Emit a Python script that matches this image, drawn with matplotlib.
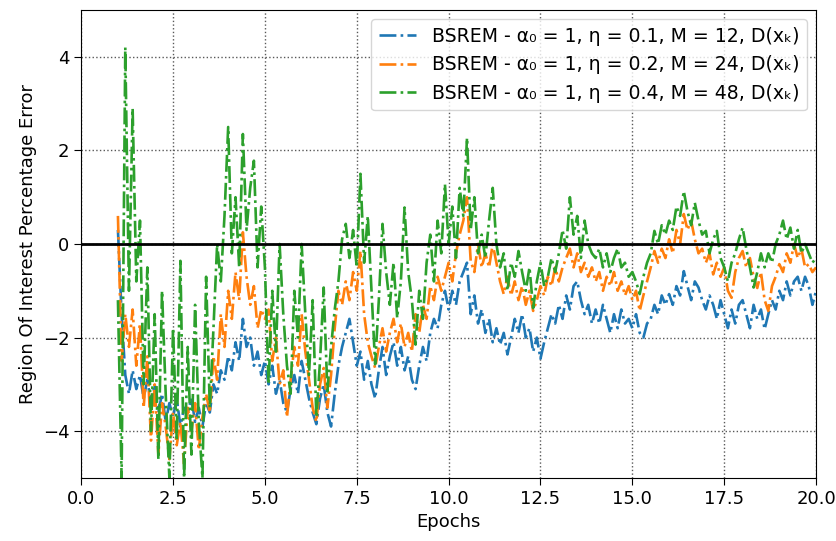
import numpy as np
import matplotlib.pyplot as plt

plt.rcParams['font.family'] = ['DejaVu Sans', 'Noto Sans']

# epochs from 1.0 to 20.0, step 0.1
epochs = np.round(np.arange(1.0, 20.01, 0.1), 2)

blue = [
    0.3, -1.5, -2.8, -3.2, -2.7, -3.1, -2.8, -3.3, -2.9, -3.4,
    -3.0, -3.6, -3.2, -3.8, -3.4, -3.7, -3.3, -3.9, -3.5, -3.6,
    -3.3, -3.8, -3.5, -3.9, -3.4, -3.6, -3.0, -3.2, -2.7, -2.9,
    -2.4, -2.7, -2.1, -2.5, -1.6, -2.2, -2.0, -2.6, -2.3, -2.8,
    -2.5, -3.0, -2.6, -3.2, -2.9, -3.4, -3.6, -3.1, -2.8, -3.2,
    -2.5, -2.9, -3.3, -3.6, -3.85, -3.3, -3.0, -3.6, -3.9, -3.2,
    -2.6, -2.2, -1.9, -1.6, -2.1, -2.6, -2.3, -2.9, -2.5, -3.0,
    -3.3, -2.7, -2.2, -2.8, -2.4, -2.1, -2.6, -2.2, -2.7, -2.4,
    -2.9, -3.1, -2.6, -2.2, -2.5, -1.9, -1.6, -1.8, -1.3, -1.0,
    -1.4, -1.0, -1.3, -0.8, -0.6, -0.4, -1.5, -1.1, -1.7, -1.4,
    -1.9, -1.6, -2.1, -1.8, -2.15, -1.9, -2.36, -2.0, -1.6, -1.9,
    -1.5, -2.0, -1.8, -2.3, -2.0, -2.45, -2.1, -1.8, -1.5, -1.7,
    -1.3, -1.6, -1.1, -1.4, -0.9, -0.8, -1.2, -1.5, -1.3, -1.7,
    -1.4, -1.7, -1.3, -1.6, -1.9, -1.5, -1.8, -1.4, -1.7, -1.6,
    -1.8, -1.5, -1.9, -2.0, -1.7, -1.6, -1.3, -1.5, -1.1, -1.3,
    -1.07, -1.3, -0.9, -1.1, -0.58, -0.9, -1.2, -0.8, -0.93, -1.2,
    -1.4, -1.1, -1.3, -1.6, -1.2, -1.5, -1.8, -1.4, -1.7, -1.3,
    -1.2, -1.5, -1.8, -1.3, -1.6, -1.4, -1.82, -1.5, -1.2, -1.4,
    -1.0, -1.2, -0.8, -1.1, -0.8, -0.7, -1.0, -0.7, -0.9, -1.3,
    -1.0,
]

orange = [
    0.6, -2.5, -1.5, -2.2, -1.4, -2.6, -1.7, -3.5, -2.4, -4.2,
    -3.0, -4.5, -3.4, -3.9, -4.6, -3.6, -4.3, -3.8, -4.7, -3.5,
    -4.0, -3.4, -4.4, -3.7, -3.2, -3.6, -2.4, -2.9, -1.5, -2.2,
    -1.0, -1.6, -0.6, -1.2, 0.25, -0.7, -1.3, -0.9, -1.8, -1.4,
    -1.6, -1.4, -2.5, -2.0, -3.0, -2.7, -3.7, -2.9, -2.2, -2.6,
    -1.5, -2.3, -2.9, -3.5, -3.8, -3.0, -2.65, -3.5, -2.8, -1.8,
    -1.0, -1.3, -0.8, -1.2, -0.6, -1.0, -0.15, -1.5, -2.1, -2.4,
    -2.65, -2.2, -1.8, -2.3, -1.9, -1.6, -2.1, -1.7, -2.2, -1.9,
    -2.3, -1.5, -1.9, -1.3, -1.6, -0.9, -1.2, -0.7, -1.0, -0.7,
    -0.4, -0.8, -0.2, 0.2, 0.5, 1.0, -0.36, -0.6, 0.0, -0.5,
    -0.2, -0.5, 0.0, -0.4, -0.8, -1.07, -0.7, -1.1, -0.8, -1.2,
    -0.9, -1.3, -1.0, -1.43, -1.2, -0.9, -1.1, -0.7, -0.9, -0.5,
    -0.8, -0.5, -0.3, -0.1, -0.5, -0.2, -0.6, -0.4, -0.7, -0.5,
    -0.8, -0.6, -1.0, -0.7, -0.9, -0.6, -1.0, -0.8, -1.1, -0.9,
    -1.2, -1.0, -1.43, -1.1, -0.8, -0.5, -0.15, -0.4, -0.1, -0.3,
    0.1, -0.2, 0.3, 0.0, 0.64, 0.3, 0.5, 0.1, -0.2, -0.1,
    -0.4, -0.2, -0.65, -0.4, -0.7, -0.5, -1.0, -1.15, -0.6, -0.3,
    -0.15, -0.5, -0.3, -0.7, -0.94, -0.6, -1.2, -1.43, -0.9, -0.7,
    -0.43, -0.6, -0.2, -0.4, 0.0, -0.3, -0.1, -0.5, -0.43, -0.6,
    -0.5,
]

green = [
    -1.2, -5.0, 4.2, -1.0, 2.9, -0.8, 0.5, -3.0, -0.5, -4.0,
    -1.5, -4.6, -1.0, -3.2, -5.0, -1.8, -4.2, -0.36, -5.0, -2.2,
    -4.5, -1.3, -3.8, -5.0, -0.7, -3.5, -1.8, 0.0, -0.8, 0.6,
    2.5, -0.2, 1.0, -0.5, 2.35, 0.3, 1.2, 1.78, -0.5, 0.8,
    -0.5, -3.0, -1.0, -2.3, 0.0, -1.5, -2.6, -3.2, -1.0, -2.0,
    0.0, -1.5, -2.8, -1.2, -3.7, -2.5, -0.93, -3.15, -2.2, -1.4,
    -0.8, 0.1, 0.43, -0.3, 0.3, -0.5, 1.5, -0.4, 0.6, -1.0,
    -2.57, -1.2, 0.43, -0.6, -1.3, -0.4, -1.58, -0.8, 0.78, -0.6,
    -1.2, -2.15, -1.0, -1.6, -0.4, 0.2, -0.8, 0.5, -0.2, 1.28,
    0.0, 0.8, -0.3, 1.2, 0.6, 2.27, 0.3, 1.0, -0.2, 0.2,
    -0.3, 0.5, 1.2, 0.0, -0.5, -0.2, -1.0, -0.4, -0.7, -0.15,
    -0.6, -1.0, -0.5, -1.37, -0.8, -0.4, -0.9, -0.7, -0.3, -0.6,
    -0.2, 0.3, -0.1, 1.0, 0.2, 0.6, -0.3, 0.5, 0.0, -0.2,
    -0.3, -0.1, -0.5, -0.2, -0.6, -0.3, -0.1, -0.5, -0.4, -0.7,
    -0.6, -0.8, -1.07, -0.7, -0.4, -0.2, 0.28, 0.0, 0.4, 0.2,
    0.5, 0.3, 0.8, 0.6, 1.13, 0.7, 0.4, 0.88, 0.5, 0.2,
    0.28, -0.2, 0.1, 0.28, -0.3, -0.5, -0.8, -0.4, -0.2, 0.1,
    0.35, -0.1, -0.5, -0.93, -0.6, -0.2, -0.5, -0.2, -0.4, 0.0,
    0.2, 0.5, 0.1, 0.35, -0.1, 0.3, -0.2, 0.0, -0.2, -0.4,
    -0.3,
]

labels = [
    'BSREM - α₀ = 1, η = 0.1, M = 12, D(xₖ)',
    'BSREM - α₀ = 1, η = 0.2, M = 24, D(xₖ)',
    'BSREM - α₀ = 1, η = 0.4, M = 48, D(xₖ)',
]

fig = plt.figure(figsize=(8.37, 5.41), dpi=100)
ax = fig.add_axes([0.097, 0.1165, 0.878, 0.865])

for ys, lab, c in zip([blue, orange, green], labels, ['C0', 'C1', 'C2']):
    ax.plot(epochs, ys, '-.', color=c, lw=1.9, label=lab)

ax.axhline(0, color='black', lw=2)

ax.set_xlim(0, 20)
ax.set_ylim(-5, 5)
ax.set_xticks([0, 2.5, 5, 7.5, 10, 12.5, 15, 17.5, 20])
ax.set_yticks([-4, -2, 0, 2, 4])
ax.grid(True, linestyle=':', color='0.35', lw=1)
ax.set_xlabel('Epochs', fontsize=13)
ax.set_ylabel('Region Of Interest Percentage Error', fontsize=13)
ax.tick_params(labelsize=13, length=5)
ax.legend(loc='upper right', fontsize=13.6)

fig.savefig('out.png', dpi=100)
